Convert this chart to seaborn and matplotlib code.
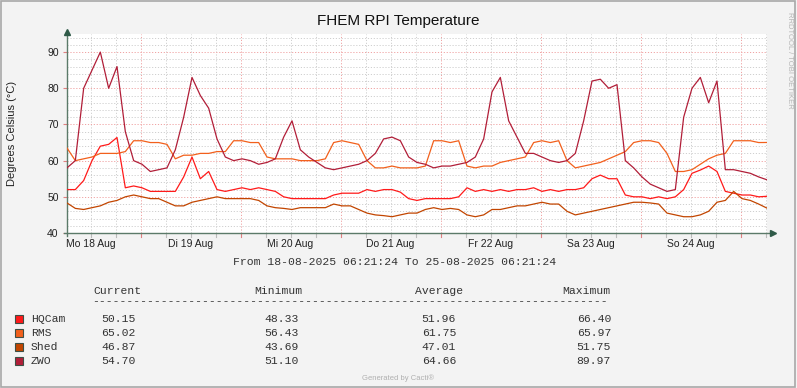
import numpy as np
import pandas as pd
import matplotlib
matplotlib.use('Agg')
import matplotlib.pyplot as plt
import matplotlib.dates as mdates
from matplotlib.patches import Rectangle
import seaborn as sns

# 2-hour samples from 18-08-2025 06:21:24 to 25-08-2025 06:21:24
start = pd.Timestamp('2025-08-18 06:21:24')
end = start + pd.Timedelta(days=7)
times = pd.date_range(start, periods=85, freq='2h')

hqcam = [52, 52, 54.5, 60, 64, 64.5, 66.4, 52.5, 53, 52.5, 51.5, 51.5,
         51.5, 51.5, 55.5, 61, 55, 57, 52, 51.5, 52, 52.5, 52, 52.5,
         52, 51.5, 50, 49.5, 49.5, 49.5, 49.5, 49.5, 50.5, 51, 51, 51,
         52, 51.5, 52, 52, 51.3, 49.5, 49, 49.5, 49.5, 49.5, 49.5, 50,
         52.5, 51.5, 52, 51.5, 52, 51.5, 52, 52, 52.5, 51.5, 52, 51.5,
         52, 52, 52.5, 55, 56, 55, 55, 50.5, 50, 50, 49.5, 50,
         49.5, 50, 52, 56.5, 57.4, 58.5, 57, 51.5, 51, 50.5, 50.5, 50, 50.15]
rms = [63.5, 60, 60.5, 61, 62, 62, 62, 62.5, 65.5, 65.5, 65, 65,
       64.5, 60.5, 61.5, 61.5, 62, 62, 62.5, 62.5, 65.5, 65.5, 65, 65,
       61, 60.5, 60.5, 60.5, 60, 60, 60, 60.5, 65, 65.5, 65, 64.5,
       60, 58, 58, 58.5, 58, 58, 58, 58.5, 65.5, 65.5, 65, 65.5,
       58.5, 58, 58.5, 58.5, 59.5, 60, 60.5, 61, 65, 65.5, 65, 65.5,
       60, 58, 58.5, 59, 59.5, 60.5, 61.5, 62.5, 65, 65.5, 65.5, 65,
       62, 57, 57, 57.5, 59, 60.5, 61.5, 62, 65.5, 65.5, 65.5, 65, 65.02]
shed = [48.3, 46.8, 46.5, 47, 47.5, 48.5, 49, 50, 50.5, 50, 49.5, 49.5,
        48.5, 47.5, 47.5, 48.5, 49, 49.5, 50, 49.5, 49.5, 49.5, 49.5, 49,
        47.5, 47, 46.8, 46.5, 47, 47, 47, 47, 48, 47.5, 47.5, 46.5,
        45.5, 45, 44.8, 44.5, 45, 45.5, 45.5, 46.5, 47, 46.5, 46.8, 46.5,
        45, 44.5, 45, 46.5, 46.5, 47, 47.5, 47.5, 48, 48.5, 48, 48,
        46, 45, 45.5, 46, 46.5, 47, 47.5, 48, 48.5, 48.5, 48.3, 48,
        45.5, 45, 44.5, 44.5, 45, 46, 48.5, 49, 51.5, 49.5, 49, 48, 46.87]
zwo = [58, 60, 80, 85, 90, 80, 86, 68, 60, 59, 57, 57.5,
       58, 63, 72, 83, 78, 74.5, 66, 61, 60, 60.5, 60, 59,
       59.5, 60.5, 66.5, 71, 63, 61, 59.5, 58, 57.5, 58, 58.5, 59,
       60, 62, 66, 66.5, 65.5, 61, 59.5, 59, 58, 58.5, 58.5, 59,
       59.5, 61, 66, 79, 83, 71, 66.5, 62, 62, 61, 60, 59.5,
       60, 62, 71, 82, 82.5, 80, 81, 60, 58, 55.5, 53.5, 52.5,
       51.5, 52, 72, 80, 83, 76, 82, 57.5, 57.5, 57, 56.5, 55.5, 54.7]

sensors = ['HQCam', 'RMS', 'Shed', 'ZWO']
colors = ['#FF1A1A', '#F2601C', '#C24500', '#B11E38']
current = ['50.15', '65.02', '46.87', '54.70']
minimum = ['48.33', '56.43', '43.69', '51.10']
average = ['51.96', '61.75', '47.01', '64.66']
maximum = ['66.40', '65.97', '51.75', '89.97']
day_labels = ['Mo 18 Aug', 'Di 19 Aug', 'Mi 20 Aug', 'Do 21 Aug',
              'Fr 22 Aug', 'Sa 23 Aug', 'So 24 Aug']

df = pd.DataFrame({'time': times, 'HQCam': hqcam, 'RMS': rms,
                   'Shed': shed, 'ZWO': zwo})
df = df.melt(id_vars='time', var_name='sensor', value_name='temp')

W, H = 797, 388
fig = plt.figure(figsize=(W / 100, H / 100), dpi=100, facecolor='#f3f3f3')
ax = fig.add_axes([67 / W, 1 - 233 / H, 700 / W, 199 / H])
ax.set_facecolor('white')


def px(x, y):
    return x / W, 1 - y / H


# grid
grid_kw = dict(lw=0.7, linestyle=(0, (1.2, 1.8)), zorder=0)
for t in pd.date_range('2025-08-18 12:00', '2025-08-25 06:00', freq='6h'):
    major = t.hour == 0
    ax.axvline(mdates.date2num(t), color='#f0a3a3' if major else '#cfcfcf', **grid_kw)
    ax.plot([mdates.date2num(t)] * 2, [-0.018, 0], color='#e08080' if major else '#bbbbbb',
            lw=0.8, transform=ax.get_xaxis_transform(), clip_on=False)
for v in range(42, 95, 2):
    major = v % 10 == 0
    ax.axhline(v, color='#f0a3a3' if major else '#cfcfcf', **grid_kw)

sns.lineplot(data=df, x='time', y='temp', hue='sensor', palette=dict(zip(sensors, colors)),
             legend=False, linewidth=0.9, estimator=None, ax=ax, zorder=3)

ax.set_xlim(mdates.date2num(start), mdates.date2num(end))
ax.set_ylim(40, 95)
ax.set_xlabel('')
ax.set_ylabel('')
noons = [mdates.date2num(t) for t in pd.date_range('2025-08-18 12:00', periods=7, freq='D')]
ax.set_xticks(noons)
ax.set_xticklabels(day_labels)
ax.set_yticks(range(40, 91, 10))
ax.tick_params(axis='x', length=0, pad=4, labelsize=7.5)
ax.tick_params(axis='y', length=3, width=0.8, color='#e08080', pad=3, labelsize=7.5)
for lab in ax.get_xticklabels() + ax.get_yticklabels():
    lab.set_fontfamily('Liberation Sans')
    lab.set_color('#222222')

for s in ['top', 'right', 'left', 'bottom']:
    ax.spines[s].set_visible(False)
axis_col = '#5b7a69'
ax.plot([0, 0], [-0.015, 1.01], color=axis_col, lw=1, transform=ax.transAxes, clip_on=False)
ax.plot([-0.004, 1.006], [0, 0], color=axis_col, lw=1, transform=ax.transAxes, clip_on=False)
ax.plot([0], [1.01], marker='^', ms=4, color='#2f5a48', transform=ax.transAxes, clip_on=False)
ax.plot([1.008], [0], marker='>', ms=4, color='#2f5a48', transform=ax.transAxes, clip_on=False)

fig.text(*px(398, 21), 'FHEM RPI Temperature', ha='center', va='center',
         fontsize=11, family='Liberation Sans', color='#111111')
fig.text(*px(12, 133), 'Degrees Celsius (°C)', ha='center', va='center', rotation=90,
         fontsize=8, family='Liberation Sans', color='#222222')
fig.text(*px(789, 60), 'RRDTOOL / TOBI OETIKER', ha='center', va='center', rotation=270,
         fontsize=5.5, family='Liberation Sans', color='#b5b5b5')
fig.text(*px(398, 378), 'Generated by Cacti®', ha='center', va='center',
         fontsize=5.5, family='Liberation Sans', color='#b0b0b0')

mono = dict(family='Liberation Mono', fontsize=8.2, color='#333333', va='center')
fig.text(*px(233, 262), 'From 18-08-2025 06:21:24 To 25-08-2025 06:21:24', ha='left', **mono)
for x, name in zip([93, 254, 415, 562], ['Current', 'Minimum', 'Average', 'Maximum']):
    fig.text(*px(x, 291), name, ha='left', **mono)
fig.text(*px(92, 301), '-' * 75, ha='left', **mono)

rows_y = [319, 333, 347, 361]
for i in range(len(sensors)):
    y = rows_y[i]
    fig.patches.append(Rectangle(px(15, y + 4), 8 / W, 8 / H, transform=fig.transFigure,
                                 facecolor=colors[i], edgecolor='#3d4f45', lw=0.8))
    fig.text(*px(31, y), sensors[i], ha='left', **mono)
    fig.text(*px(136, y), current[i], ha='right', **mono)
    fig.text(*px(299, y), minimum[i], ha='right', **mono)
    fig.text(*px(456, y), average[i], ha='right', **mono)
    fig.text(*px(611, y), maximum[i], ha='right', **mono)

fig.patches.append(Rectangle((0.001, 0.002), 0.997, 0.996, transform=fig.transFigure,
                             facecolor='none', edgecolor='#a8a8a8', lw=1.2))

fig.savefig('out.png', dpi=100, facecolor=fig.get_facecolor())
